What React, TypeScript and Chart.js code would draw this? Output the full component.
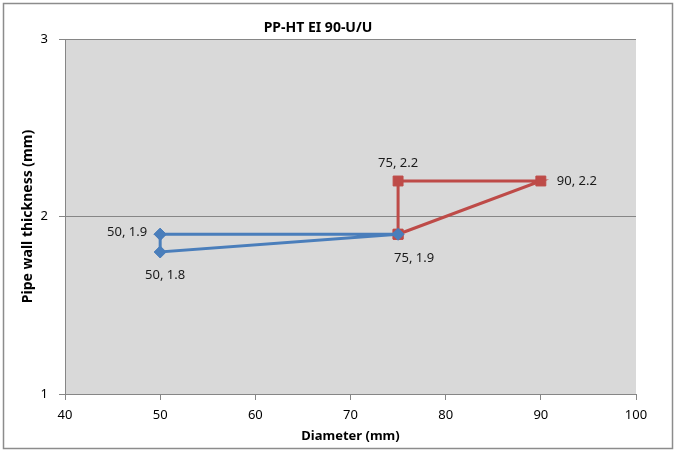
import React, { useEffect, useRef } from 'react';
import { Chart, registerables } from 'chart.js';

Chart.register(...registerables);

const chartTitle = 'PP-HT EI 90-U/U';
const xAxisTitle = 'Diameter (mm)';
const yAxisTitle = 'Pipe wall thickness (mm)';

// Blue series (closed path)
const blueX = [50, 75, 50, 50];
const blueY = [1.9, 1.9, 1.8, 1.9];
// Red series (closed path)
const redX = [75, 75, 90, 75];
const redY = [1.9, 2.2, 2.2, 1.9];

// Where each point's data label sits ('' = no label)
const blueLabelSpots = ['left', 'belowRight', 'below', ''];
const redLabelSpots = ['', 'above', 'right', ''];

const xMin = 40;
const xMax = 100;
const xStep = 10;
const yMin = 1;
const yMax = 3;
const yStep = 1;

const FONT = "'Noto Sans', 'Liberation Sans', sans-serif";

const frame = {
  id: 'frame',
  beforeDraw(chart: any) {
    const { ctx, chartArea, width, height } = chart;
    ctx.save();
    ctx.fillStyle = '#ffffff';
    ctx.fillRect(0, 0, width, height);
    ctx.strokeStyle = '#8c8c8c';
    ctx.lineWidth = 1.5;
    ctx.strokeRect(3.5, 3.5, 669, 445);
    ctx.fillStyle = '#d9d9d9';
    ctx.fillRect(chartArea.left, chartArea.top, chartArea.right - chartArea.left, chartArea.bottom - chartArea.top);
    ctx.restore();
  },
};

const pointLabels = {
  id: 'pointLabels',
  afterDatasetsDraw(chart: any) {
    const { ctx } = chart;
    ctx.save();
    ctx.font = `13px ${FONT}`;
    ctx.fillStyle = '#1a1a1a';
    ctx.textBaseline = 'middle';
    chart.data.datasets.forEach((ds: any, di: number) => {
      const meta = chart.getDatasetMeta(di);
      const spots: string[] = ds.labelSpots || [];
      meta.data.forEach((el: any, i: number) => {
        const spot = spots[i];
        if (!spot) return;
        const raw = ds.data[i];
        const text = `${raw.x}, ${raw.y}`;
        let x = el.x;
        let y = el.y;
        if (spot === 'left') {
          ctx.textAlign = 'right';
          x -= 13;
          y -= 2;
        } else if (spot === 'right') {
          ctx.textAlign = 'left';
          x += 16;
        } else if (spot === 'above') {
          ctx.textAlign = 'center';
          y -= 18;
        } else if (spot === 'below') {
          ctx.textAlign = 'center';
          x += 5;
          y += 23;
        } else if (spot === 'belowRight') {
          ctx.textAlign = 'center';
          x += 16;
          y += 24;
        }
        ctx.fillText(text, x, y);
      });
    });
    ctx.restore();
  },
};

export default function App() {
  const ref = useRef<HTMLCanvasElement>(null);

  useEffect(() => {
    if (!ref.current) return;
    const toPoints = (xs: number[], ys: number[]) => xs.map((x, i) => ({ x, y: ys[i] }));
    const chart = new Chart(ref.current, {
      type: 'scatter',
      data: {
        datasets: [
          {
            data: toPoints(blueX, blueY),
            showLine: true,
            borderColor: '#4a7ebb',
            backgroundColor: '#4a7ebb',
            borderWidth: 3,
            pointStyle: 'rectRot',
            pointRadius: 6,
            pointBorderWidth: 1,
            pointBorderColor: '#4a7ebb',
            pointBackgroundColor: '#4a7ebb',
            labelSpots: blueLabelSpots,
          } as any,
          {
            data: toPoints(redX, redY),
            showLine: true,
            borderColor: '#be4b48',
            backgroundColor: '#be4b48',
            borderWidth: 3,
            pointStyle: 'rect',
            pointRadius: 7,
            pointBorderWidth: 1,
            pointBorderColor: '#be4b48',
            pointBackgroundColor: '#be4b48',
            labelSpots: redLabelSpots,
          } as any,
        ],
      },
      options: {
        animation: false,
        responsive: false,
        layout: { padding: { left: 0, right: 42, top: 0, bottom: 0 } },
        plugins: {
          legend: { display: false },
          tooltip: { enabled: false },
          title: {
            display: true,
            text: chartTitle,
            color: '#000000',
            font: { family: FONT, size: 14, weight: 'bold' },
            padding: { top: 19.6, bottom: 2.6 },
          },
        },
        scales: {
          x: {
            type: 'linear',
            min: xMin,
            max: xMax,
            ticks: {
              stepSize: xStep,
              color: '#000000',
              padding: 7,
              font: { family: FONT, size: 13 },
            },
            grid: {
              drawOnChartArea: false,
              drawTicks: true,
              tickLength: 6,
              color: '#868686',
            },
            border: { color: '#868686', width: 1 },
            title: {
              display: true,
              text: xAxisTitle,
              color: '#000000',
              font: { family: FONT, size: 13, weight: 'bold' },
              padding: { top: 0, bottom: 10 },
            },
            afterFit: (scale: any) => {
              scale.height = 60;
            },
          },
          y: {
            type: 'linear',
            min: yMin,
            max: yMax,
            ticks: {
              stepSize: yStep,
              color: '#000000',
              padding: 11,
              font: { family: FONT, size: 13 },
            },
            grid: {
              drawOnChartArea: true,
              drawTicks: true,
              tickLength: 6,
              color: '#868686',
            },
            border: { color: '#868686', width: 1 },
            title: {
              display: true,
              text: yAxisTitle,
              color: '#000000',
              font: { family: FONT, size: 14, weight: 'bold' },
              padding: { top: 19.6, bottom: 0 },
            },
            afterFit: (scale: any) => {
              scale.width = 65;
            },
          },
        },
      },
      plugins: [frame, pointLabels],
    });
    return () => chart.destroy();
  }, []);

  return (
    <div style={{ position: 'absolute', left: 0, top: 0, width: 678, height: 454 }}>
      <canvas ref={ref} width={678} height={454} style={{ display: 'block' }} />
    </div>
  );
}
